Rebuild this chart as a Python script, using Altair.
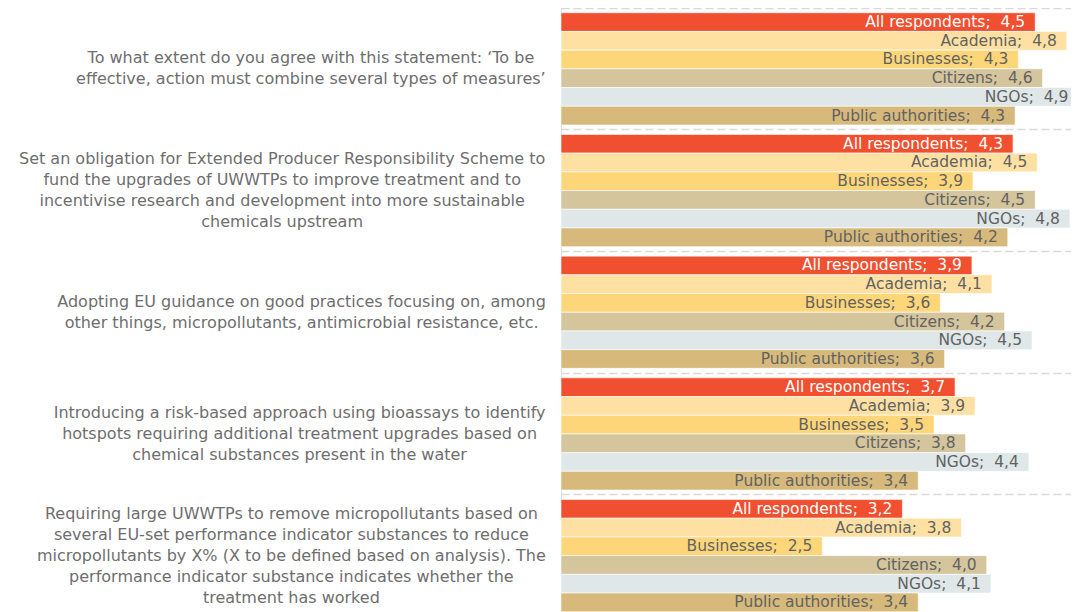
import altair as alt
import pandas as pd

questions = [
    "To what extent do you agree with this statement: \u2018To be\neffective, action must combine several types of measures\u2019",
    "Set an obligation for Extended Producer Responsibility Scheme to\nfund the upgrades of UWWTPs to improve treatment and to\nincentivise research and development into more sustainable\nchemicals upstream",
    "Adopting EU guidance on good practices focusing on, among\nother things, micropollutants, antimicrobial resistance, etc.",
    "Introducing a risk-based approach using bioassays to identify\nhotspots requiring additional treatment upgrades based on\nchemical substances present in the water",
    "Requiring large UWWTPs to remove micropollutants based on\nseveral EU-set performance indicator substances to reduce\nmicropollutants by X% (X to be defined based on analysis). The\nperformance indicator substance indicates whether the\ntreatment has worked",
]
groups = ["All respondents", "Academia", "Businesses", "Citizens", "NGOs", "Public authorities"]
colors = ["#F04F30", "#FEE1A2", "#FED67A", "#D4C59D", "#DFE7E9", "#D7BA7B"]

values_q1 = [4.50, 4.80, 4.34, 4.57, 4.91, 4.31]
values_q2 = [4.29, 4.52, 3.91, 4.50, 4.83, 4.24]
values_q3 = [3.90, 4.09, 3.60, 4.21, 4.47, 3.64]
values_q4 = [3.74, 3.93, 3.54, 3.84, 4.44, 3.39]
values_q5 = [3.24, 3.80, 2.48, 4.04, 4.08, 3.39]
all_values = [values_q1, values_q2, values_q3, values_q4, values_q5]

rows = []
for q, vals in zip(questions, all_values):
    for g, v in zip(groups, vals):
        rows.append({"question": q, "group": g, "value": v})
df = pd.DataFrame(rows)

WIDTH = 510
HEIGHT = 608.5
STEP = HEIGHT / len(questions)
FONT = "DejaVu Sans"
LABEL_FONT = 16
LINE_H = 21
# rough DejaVu Sans advance widths (units per em = 2048), used to centre each label block
ADV = {" ": 651, ",": 651, ".": 651, ":": 690, "-": 739, "(": 799, ")": 799, "%": 1946,
       "\u2018": 651, "\u2019": 651,
       "a": 1255, "b": 1300, "c": 1126, "d": 1300, "e": 1260, "f": 721, "g": 1300, "h": 1298,
       "i": 569, "j": 569, "k": 1186, "l": 569, "m": 1995, "n": 1298, "o": 1253, "p": 1300,
       "q": 1300, "r": 842, "s": 1067, "t": 803, "u": 1298, "v": 1212, "w": 1675, "x": 1212,
       "y": 1212, "z": 1075,
       "A": 1401, "B": 1405, "C": 1430, "D": 1577, "E": 1294, "F": 1178, "G": 1587, "H": 1540,
       "I": 604, "J": 604, "K": 1343, "L": 1141, "M": 1767, "N": 1532, "O": 1612, "P": 1235,
       "Q": 1612, "R": 1423, "S": 1300, "T": 1251, "U": 1499, "V": 1401, "W": 2025, "X": 1403,
       "Y": 1251, "Z": 1405}


def text_width(s, size):
    return sum(ADV.get(ch, 1200) for ch in s) * size / 2048


label_gap = 15
q_rows = []
for q in questions:
    lines = q.split("\n")
    w = max(text_width(line, LABEL_FONT) for line in lines)
    q_rows.append({"question": q,
                   "cx": -(label_gap + w / 2),
                   "dy": STEP / 2 - (len(lines) - 1) * LINE_H / 2})
qdf = pd.DataFrame(q_rows)

y_enc = alt.Y(
    "question:N",
    sort=questions,
    scale=alt.Scale(paddingInner=0, paddingOuter=0),
    axis=alt.Axis(title=None, labels=False, ticks=False, domain=True, domainColor="#d9d9d9",
                  domainWidth=1, grid=True, gridColor="#d9d9d9", gridDash=[8, 4],
                  gridWidth=1.3, bandPosition=0),
)
x_scale = alt.Scale(domain=[0, 4.84], nice=False, zero=True)
yoff = alt.YOffset("group:N", sort=groups, scale=alt.Scale(paddingOuter=0.254, paddingInner=0))

base = alt.Chart(df)

bars = base.mark_bar(stroke="white", strokeWidth=0.6).encode(
    x=alt.X("value:Q", scale=x_scale, axis=None),
    y=y_enc,
    yOffset=yoff,
    color=alt.Color("group:N", sort=groups, scale=alt.Scale(domain=groups, range=colors), legend=None),
)

bar_labels = base.transform_calculate(
    lab="datum.group + ';\u00a0 ' + replace(format(datum.value, '.1f'), '.', ',')"
).mark_text(align="right", baseline="middle", dx=-10, font=FONT, fontSize=15.5).encode(
    x=alt.X("value:Q", scale=x_scale, axis=None),
    y=y_enc,
    yOffset=yoff,
    text="lab:N",
    color=alt.condition(alt.datum.group == "All respondents", alt.value("white"), alt.value("#626262")),
)

q_labels = alt.Chart(qdf).transform_calculate(
    lines="split(datum.question, '\\n')"
).mark_text(align="center", baseline="middle", font=FONT, fontSize=LABEL_FONT,
            lineHeight=LINE_H, color="#6e6e6e").encode(
    x=alt.X("cx:Q", scale=None),
    y=y_enc,
    yOffset=alt.YOffset("dy:Q", scale=None),
    text="lines:N",
)

chart = alt.layer(bars, bar_labels, q_labels).properties(
    width=WIDTH,
    height=HEIGHT,
    padding={"left": 553, "top": 0, "right": 0, "bottom": 0},
    autosize=alt.AutoSizeParams(type="none"),
    background="white",
).configure_view(stroke=None)

chart.save("out.html", embed_options={"renderer": "svg", "actions": False})
